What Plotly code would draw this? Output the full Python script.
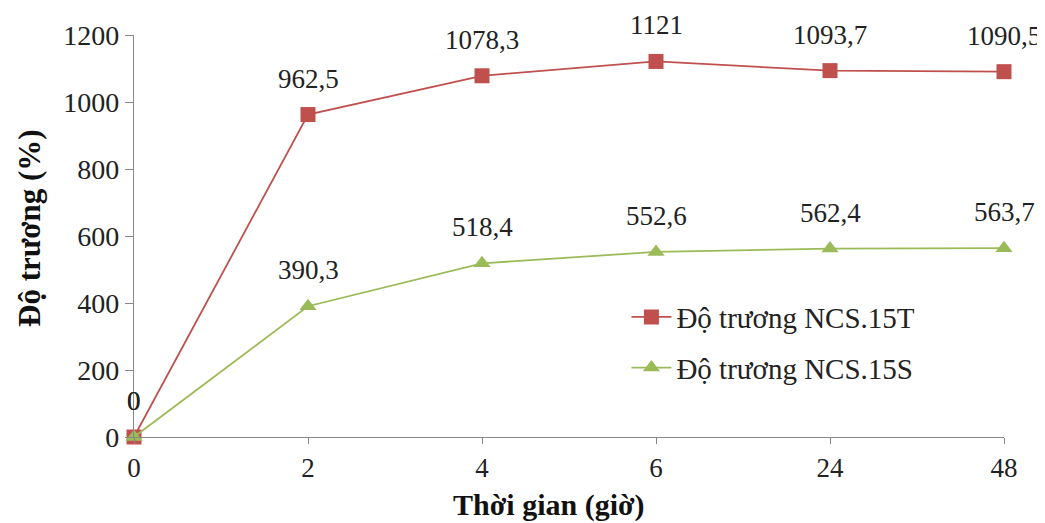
import plotly.graph_objects as go

categories = ["0", "2", "4", "6", "24", "48"]
ncs15t = [0, 962.5, 1078.3, 1121, 1093.7, 1090.5]
ncs15s = [0, 390.3, 518.4, 552.6, 562.4, 563.7]
labels_t = ["0", "962,5", "1078,3", "1121", "1093,7", "1090,5"]
labels_s = ["0", "390,3", "518,4", "552,6", "562,4", "563,7"]
y_ticks = [0, 200, 400, 600, 800, 1000, 1200]

RED = "#C0504D"
GREEN = "#9BBB59"
FONT = "serif"

xs = list(range(len(categories)))

fig = go.Figure()
fig.add_trace(go.Scatter(
    x=xs, y=ncs15t, mode="lines+markers", name="Độ trương NCS.15T",
    legendgroup="t",
    line=dict(color=RED, width=1.8),
    marker=dict(symbol="square", size=15, color=RED),
    cliponaxis=False,
))
fig.add_trace(go.Scatter(
    x=xs, y=ncs15s, mode="lines+markers", name="Độ trương NCS.15S",
    legendgroup="s",
    line=dict(color=GREEN, width=1.8),
    marker=dict(symbol="triangle-up", size=15, color=GREEN),
    cliponaxis=False,
))

for xi, yv, lab in zip(xs, ncs15t, labels_t):
    fig.add_annotation(x=xi, y=yv, text=lab, showarrow=False, yshift=36,
                       font=dict(family=FONT, size=27, color="#222"))
for xi, yv, lab in zip(xs, ncs15s, labels_s):
    fig.add_annotation(x=xi, y=yv, text=lab, showarrow=False, yshift=36,
                       font=dict(family=FONT, size=27, color="#222"))

fig.add_annotation(xref="paper", yref="paper", x=0.477, y=-0.122, yanchor="top",
                   text="<b>Thời gian (giờ)</b>", showarrow=False,
                   font=dict(family=FONT, size=30, color="#111"))
fig.add_annotation(xref="paper", yref="paper", x=-0.1195, y=0.52, xanchor="center",
                   textangle=-90,
                   text="<b>Độ trương (%)</b>", showarrow=False,
                   font=dict(family=FONT, size=31, color="#111"))

fig.update_layout(
    width=1045, height=523,
    margin=dict(l=126, r=49, t=27, b=94, autoexpand=False),
    paper_bgcolor="white", plot_bgcolor="white",
    font=dict(family=FONT, size=22, color="#222"),
    showlegend=True,
    legend=dict(x=0.566, y=0.235, xanchor="left", yanchor="middle",
                font=dict(family=FONT, size=29, color="#222"),
                bgcolor="rgba(0,0,0,0)", itemwidth=40, tracegroupgap=10),
)
fig.update_xaxes(
    range=[0, 5], tickvals=xs, ticktext=categories, showgrid=False, zeroline=False,
    showline=True, linecolor="#888", linewidth=1.2, automargin=False,
    ticks="outside", ticklen=6, tickcolor="#888",
    tickfont=dict(family=FONT, size=27, color="#222"),
)
fig.update_yaxes(
    range=[0, 1200], tickvals=y_ticks, showgrid=False, zeroline=False,
    showline=True, linecolor="#888", linewidth=1.2, automargin=False,
    ticks="outside", ticklen=8, tickcolor="#888",
    tickfont=dict(family=FONT, size=28, color="#222"),
)

fig.write_html("out.html")
